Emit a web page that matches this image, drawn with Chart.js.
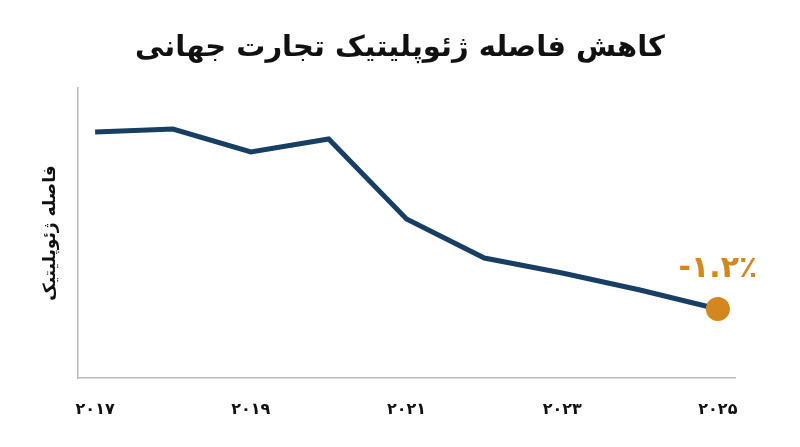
<!DOCTYPE html>
<html><head><meta charset="utf-8">
<script src="https://cdn.jsdelivr.net/npm/chart.js@4"></script>
<style>html,body{margin:0;background:#fff}#wrap{width:800px;height:447px}</style>
</head><body><div id="wrap"><canvas id="c"></canvas></div>
<script>
const years = [2017, 2018, 2019, 2020, 2021, 2022, 2023, 2024, 2025];
const values = [246, 249, 226, 239, 159, 120, 105, 88, 69];
const tickYears = [2017, 2019, 2021, 2023, 2025];
const titleText = "کاهش فاصله ژئوپلیتیک تجارت جهانی";
const yTitle = "فاصله ژئوپلیتیک";
const lastLabel = "-۱.۲٪";

const FONT = "'DejaVu Sans', sans-serif";
const NAVY = "#173e63", ORANGE = "#d4861f";
const fa = (n) => String(n).replace(/\d/g, (d) => "۰۱۲۳۴۵۶۷۸۹"[d]);

const extras = {
  id: "extras",
  afterDraw(chart) {
    const ctx = chart.ctx;
    ctx.save();
    ctx.fillStyle = "#111";
    ctx.font = `bold 29px ${FONT}`;
    ctx.textAlign = "center";
    ctx.textBaseline = "middle";
    ctx.fillText(titleText, 400, 48);
    const pt = chart.getDatasetMeta(0).data[values.length - 1];
    ctx.fillStyle = ORANGE;
    ctx.font = `bold 30px ${FONT}`;
    ctx.fillText(lastLabel, pt.x, pt.y - 40);
    ctx.restore();
  }
};

new Chart(document.getElementById("c"), {
  type: "line",
  data: {
    datasets: [{
      data: years.map((x, i) => ({ x, y: values[i] })),
      borderColor: NAVY,
      borderWidth: 5,
      tension: 0,
      pointRadius: values.map((_, i) => i === values.length - 1 ? 12 : 0),
      pointBackgroundColor: ORANGE,
      pointBorderWidth: 0,
      pointHoverRadius: 0
    }]
  },
  options: {
    responsive: true,
    maintainAspectRatio: false,
    animation: false,
    layout: { padding: { top: 88, right: 65, left: 0, bottom: 0 } },
    plugins: { legend: { display: false }, tooltip: { enabled: false } },
    scales: {
      x: {
        type: "linear", min: 2016.78, max: 2025.22,
        grid: { display: false },
        border: { color: "#bbb", width: 1.5 },
        afterBuildTicks: (s) => { s.ticks = tickYears.map((v) => ({ value: v })); },
        afterFit: (s) => { s.height = 69; },
        ticks: { callback: (v) => fa(v), color: "#111", padding: 14, font: { family: FONT, size: 16, weight: "bold" } }
      },
      y: {
        min: 0, max: 290,
        grid: { display: false },
        border: { color: "#bbb", width: 1.5 },
        ticks: { display: false },
        afterFit: (s) => { s.width = 78; },
        title: { display: true, text: yTitle, color: "#111", padding: { top: 40, bottom: 12 }, font: { family: FONT, size: 17, weight: "bold" } }
      }
    }
  },
  plugins: [extras]
});
</script></body></html>
